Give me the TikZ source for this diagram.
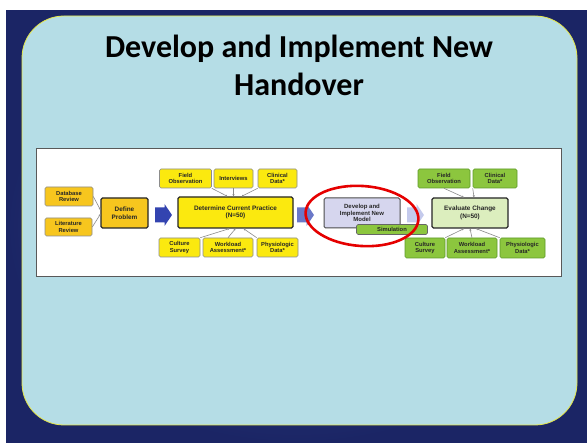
\documentclass[tikz,border=0pt]{standalone}
\usepackage{fontspec}
\setmainfont{Liberation Sans}
\newfontfamily\titlefont{Carlito}
\usetikzlibrary{arrows.meta,shapes.geometric}
\definecolor{slidedark}{HTML}{1B2565}
\definecolor{slidemid}{HTML}{2E4A8C}
\definecolor{panelblue}{HTML}{B5DDE6}
\definecolor{panelline}{HTML}{E6E84A}
\definecolor{boxyellow}{HTML}{FBE90F}
\definecolor{boxorange}{HTML}{F7C61E}
\definecolor{boxgreen}{HTML}{8CC63E}
\definecolor{greenline}{HTML}{5E9A2A}
\definecolor{lightgreen}{HTML}{DCEEBE}
\definecolor{lavender}{HTML}{D6D6EE}
\definecolor{bluearrow}{HTML}{3344B0}
\definecolor{midarrow}{HTML}{6A78C8}
\definecolor{palearrow}{HTML}{C4CAEC}
\definecolor{linkgray}{HTML}{8A8A8A}
\tikzset{
  smallbox/.style={draw=#1, line width=0.6pt, rounded corners=1.5pt, align=center,
    font=\fontsize{5.8}{6.2}\selectfont\bfseries, inner sep=0pt, text=black!85},
  ybox/.style={smallbox=black!45, fill=boxyellow},
  obox/.style={smallbox=black!45, fill=boxorange},
  gbox/.style={smallbox=greenline, fill=boxgreen},
  mainbox/.style={draw=black!85, line width=1.2pt, rounded corners=1.5pt, align=center,
    font=\fontsize{6.4}{7.6}\selectfont\bfseries, inner sep=0pt, text=black!85},
  link/.style={draw=linkgray, line width=0.6pt, -{Stealth[length=2.2pt,width=2pt]}},
  titletext/.style={font=\titlefont\bfseries\fontsize{32}{38}\selectfont, text=black, anchor=base, inner sep=0pt}
}
\newcommand{\blockarr}[3]{% x-left, y-center, color
  \fill[#3] (#1,#2-7.5) -- (#1+9.5,#2-7.5) -- (#1+9.5,#2-11) -- (#1+17,#2) -- (#1+9.5,#2+11)
    -- (#1+9.5,#2+7.5) -- (#1,#2+7.5) -- cycle;}
\begin{document}
\begin{tikzpicture}[x=1pt,y=-1pt]
\useasboundingbox (0,0) rectangle (587,443);
\fill[white] (0,0) rectangle (587,443);
% slide background
\shade[inner color=slidemid, outer color=slidedark] (6,11) rectangle (587,443);
% panel
\draw[fill=panelblue, draw=panelline, line width=0.8pt, rounded corners=42pt]
  (22,16) rectangle (577,425);
% title
\node[titletext] (title1) at (299,58) {Develop and Implement New};
\node[titletext] (title2) at (299,96) {Handover};
% white diagram area
\draw[fill=white, draw=black!65, line width=1pt] (36,149) rectangle (561,277);

% left group
\node[obox, minimum width=48pt, minimum height=19pt] (db) at (69,196.5) {Database\\Review};
\node[obox, minimum width=47pt, minimum height=18pt] (lit) at (68.5,227) {Literature\\Review};
\node[mainbox, fill=boxorange, minimum width=47pt, minimum height=30pt] (def) at (124.5,213) {Define\\Problem};
\coordinate (defin1) at (100.5,210);
\coordinate (defin2) at (100.5,214);
\draw[link] (db.east) -- (defin1);
\draw[link] (lit.east) -- (defin2);

\blockarr{155}{215}{bluearrow}

% determine current practice
\node[mainbox, fill=boxyellow, minimum width=115pt, minimum height=31pt] (dcp) at (235.5,212.5)
  {Determine Current Practice\\(N=50)};
\node[ybox, minimum width=52pt, minimum height=19pt] (fo1) at (185.5,178.5) {Field\\Observation};
\node[ybox, minimum width=39pt, minimum height=19pt] (int1) at (233.5,178.5) {Interviews};
\node[ybox, minimum width=39pt, minimum height=19pt] (cd1) at (277.5,178.5) {Clinical\\Data*};
\node[ybox, minimum width=41pt, minimum height=19pt] (cs1) at (179.5,247.5) {Culture\\Survey};
\node[ybox, minimum width=50pt, minimum height=19pt] (wa1) at (228,247.5) {Workload\\Assessment*};
\node[ybox, minimum width=41pt, minimum height=19pt] (pd1) at (277.5,247.5) {Physiologic\\Data*};
\draw[link] (fo1.south east) -- ([xshift=-8pt]dcp.north);
\draw[link] (int1.south) -- ([xshift=-2pt]dcp.north);
\draw[link] (cd1.south west) -- ([xshift=6pt]dcp.north);
\draw[link] (cs1.north east) -- ([xshift=-6pt]dcp.south);
\draw[link] (wa1.north) -- ([xshift=0pt]dcp.south);
\draw[link] (pd1.north west) -- ([xshift=8pt]dcp.south);

\blockarr{297}{215}{midarrow}

% develop and implement
\node[mainbox, draw=black!70, line width=1pt, fill=lavender, minimum width=76pt, minimum height=30pt,
  font=\fontsize{6}{6.6}\selectfont\bfseries] (dev) at (362,213) {Develop and\\Implement New\\Model};
\node[gbox, draw=black!60, minimum width=71pt, minimum height=10pt] (sim) at (392,229.5) {Simulation};

\blockarr{407}{215}{palearrow}

% evaluate change
\node[mainbox, fill=lightgreen, minimum width=76pt, minimum height=30pt] (ev) at (470,213)
  {Evaluate Change\\[1pt](N=50)};
\node[gbox, minimum width=52pt, minimum height=19pt] (fo2) at (444,178.5) {Field\\Observation};
\node[gbox, minimum width=44pt, minimum height=19pt] (cd2) at (495,178.5) {Clinical\\Data*};
\node[gbox, minimum width=40pt, minimum height=20pt] (cs2) at (425,248) {Culture\\Survey};
\node[gbox, minimum width=50pt, minimum height=20pt] (wa2) at (472,248) {Workload\\Assessment*};
\node[gbox, minimum width=45pt, minimum height=20pt] (pd2) at (522.5,248) {Physiologic\\Data*};
\draw[link] (fo2.south) -- ([xshift=-6pt]ev.north);
\draw[link] (cd2.south west) -- ([xshift=4pt]ev.north);
\draw[link] (cs2.north east) -- ([xshift=-6pt]ev.south);
\draw[link] (wa2.north) -- ([xshift=0pt]ev.south);
\draw[link] (pd2.north west) -- ([xshift=6pt]ev.south);

% red ellipse highlight
\node[ellipse, draw=red!90!black, line width=2.6pt, minimum width=113pt, minimum height=60pt,
  rotate=-4, inner sep=0pt] (hl) at (362,216) {};
\end{tikzpicture}
\end{document}
